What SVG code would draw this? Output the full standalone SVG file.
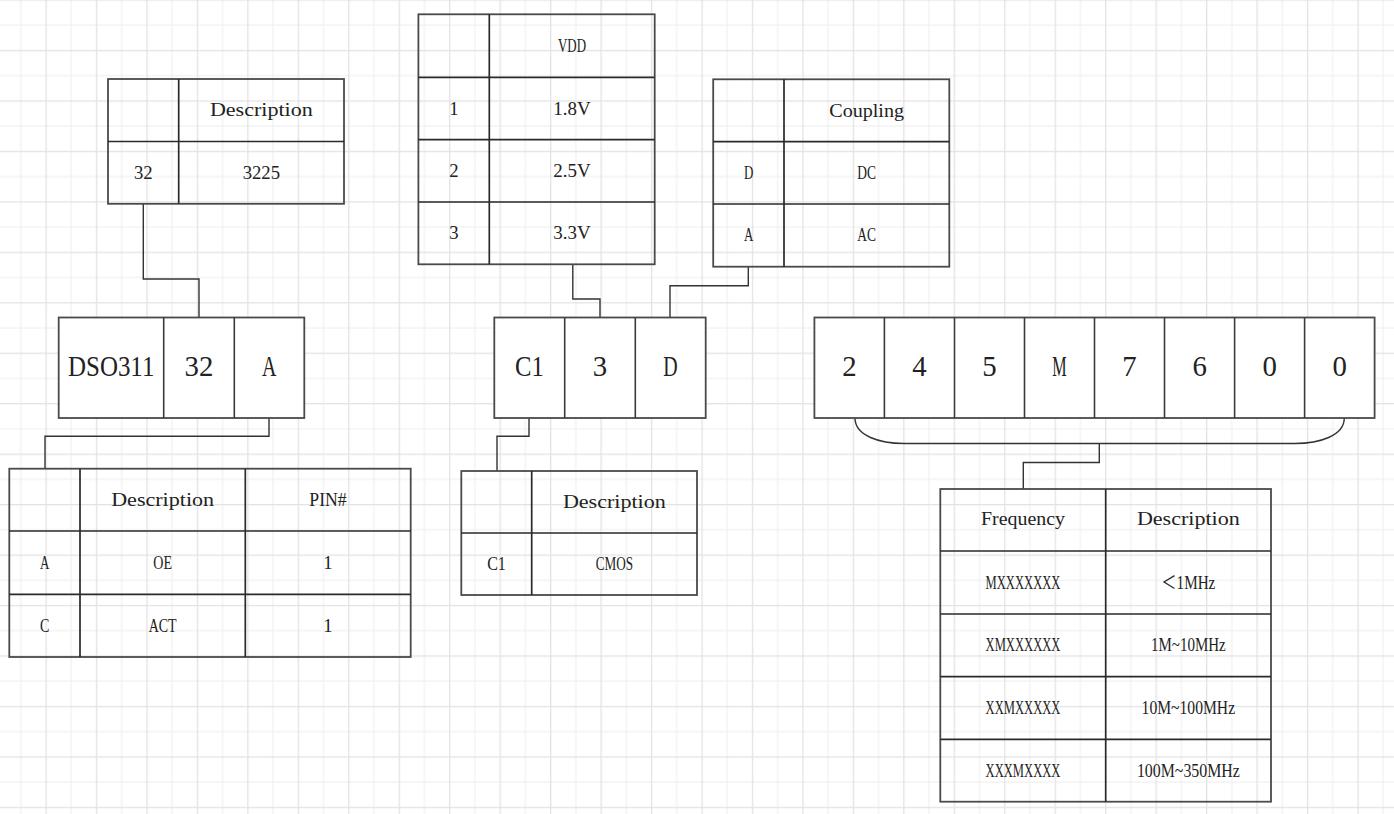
<svg xmlns="http://www.w3.org/2000/svg" width="1394" height="814" viewBox="0 0 1394 814">
<style>
.tb{fill:none;stroke:#4a4a4a;stroke-width:1.8}
.tl{stroke:#2a2a2a;stroke-width:1.7;fill:none}
.nd{fill:#fff;stroke:#4a4a4a;stroke-width:1.8}
.nl{stroke:#3a3a3a;stroke-width:1.6}
.t{font-family:"Liberation Serif","Noto Sans CJK SC",serif;font-size:18px;fill:#222;text-anchor:middle}
.b{font-family:"Liberation Serif","Noto Sans CJK SC",serif;font-size:29px;fill:#222;text-anchor:middle}
#connectors path{fill:none;stroke:#333;stroke-width:1.4}
</style>
<defs>
<pattern id="grid" x="45.4" y="-0.6" width="50.46" height="50.46" patternUnits="userSpaceOnUse">
<rect width="50.46" height="50.46" fill="#fff"/>
<rect x="25.23" y="0" width="1.1" height="50.46" fill="#f0f0f0"/>
<rect x="0" y="25.23" width="50.46" height="1.1" fill="#f0f0f0"/>
<rect x="0" y="0" width="1.3" height="50.46" fill="#e3e3e3"/>
<rect x="0" y="0" width="50.46" height="1.3" fill="#e3e3e3"/>
</pattern>
</defs>
<rect width="1394" height="814" fill="url(#grid)"/>

<g id="connectors">
<path d="M143.3,203.8 V279 H199 V317.5"/>
<path d="M269,418 V436.3 H45 V468.7"/>
<path d="M572.8,264.3 V299 H600 V317.5"/>
<path d="M748.3,266.8 V285.7 H670 V317.5"/>
<path d="M529,418 V436.3 H497 V471"/>
<path d="M855,418 C855,436 880,443.5 904,443.5 H1295 C1319,443.5 1344.3,436 1344.3,418"/>
<path d="M1099.3,443.5 V462.5 H1023.3 V489"/>
</g>

<g id="table-package">
<rect class="tb" x="108" y="79" width="236" height="124.8"/>
<path class="tl" d="M178.7,79 V203.8 M108,141.5 H344"/>
<text class="t" x="261.35" y="116.3" textLength="102.9" lengthAdjust="spacingAndGlyphs">Description</text>
<text class="t" x="143.3" y="178.6" textLength="18.7" lengthAdjust="spacingAndGlyphs">32</text>
<text class="t" x="261.35" y="178.6" textLength="37.4" lengthAdjust="spacingAndGlyphs">3225</text>
</g>

<g id="table-vdd">
<rect class="tb" x="418.4" y="14.3" width="236.3" height="250"/>
<path class="tl" d="M489.3,14.3 V264.3 M418.4,77.3 H654.7 M418.4,139.7 H654.7 M418.4,202 H654.7"/>
<text class="t" x="572" y="51.8" textLength="28" lengthAdjust="spacingAndGlyphs">VDD</text>
<text class="t" x="453.85" y="114.5" textLength="9.35" lengthAdjust="spacingAndGlyphs">1</text>
<text class="t" x="572" y="114.5" textLength="37.4" lengthAdjust="spacingAndGlyphs">1.8V</text>
<text class="t" x="453.85" y="176.85" textLength="9.35" lengthAdjust="spacingAndGlyphs">2</text>
<text class="t" x="572" y="176.85" textLength="37.4" lengthAdjust="spacingAndGlyphs">2.5V</text>
<text class="t" x="453.85" y="239.15" textLength="9.35" lengthAdjust="spacingAndGlyphs">3</text>
<text class="t" x="572" y="239.15" textLength="37.4" lengthAdjust="spacingAndGlyphs">3.3V</text>
</g>

<g id="table-coupling">
<rect class="tb" x="713.2" y="79.3" width="236.1" height="187.4"/>
<path class="tl" d="M784,79.3 V266.7 M713.2,141.7 H949.3 M713.2,204 H949.3"/>
<text class="t" x="866.65" y="116.5" textLength="74.8" lengthAdjust="spacingAndGlyphs">Coupling</text>
<text class="t" x="748.6" y="178.85" textLength="9.35" lengthAdjust="spacingAndGlyphs">D</text>
<text class="t" x="866.65" y="178.85" textLength="18.7" lengthAdjust="spacingAndGlyphs">DC</text>
<text class="t" x="748.6" y="241.35" textLength="9.35" lengthAdjust="spacingAndGlyphs">A</text>
<text class="t" x="866.65" y="241.35" textLength="18.7" lengthAdjust="spacingAndGlyphs">AC</text>
</g>

<g id="table-pin">
<rect class="tb" x="9.3" y="468.7" width="401.4" height="188.3"/>
<path class="tl" d="M80,468.7 V657 M245.3,468.7 V657 M9.3,531 H410.7 M9.3,594.3 H410.7"/>
<text class="t" x="162.65" y="505.85" textLength="102.9" lengthAdjust="spacingAndGlyphs">Description</text>
<text class="t" x="328" y="505.85" textLength="37.4" lengthAdjust="spacingAndGlyphs">PIN#</text>
<text class="t" x="44.65" y="568.65" textLength="9.35" lengthAdjust="spacingAndGlyphs">A</text>
<text class="t" x="162.65" y="568.65" textLength="18.7" lengthAdjust="spacingAndGlyphs">OE</text>
<text class="t" x="328" y="568.65" textLength="9.35" lengthAdjust="spacingAndGlyphs">1</text>
<text class="t" x="44.65" y="631.65" textLength="9.35" lengthAdjust="spacingAndGlyphs">C</text>
<text class="t" x="162.65" y="631.65" textLength="28" lengthAdjust="spacingAndGlyphs">ACT</text>
<text class="t" x="328" y="631.65" textLength="9.35" lengthAdjust="spacingAndGlyphs">1</text>
</g>

<g id="table-output">
<rect class="tb" x="461.3" y="471" width="235.7" height="124"/>
<path class="tl" d="M531.7,471 V595 M461.3,533 H697"/>
<text class="t" x="614.35" y="508" textLength="102.9" lengthAdjust="spacingAndGlyphs">Description</text>
<text class="t" x="496.5" y="570" textLength="18.7" lengthAdjust="spacingAndGlyphs">C1</text>
<text class="t" x="614.35" y="570" textLength="37.4" lengthAdjust="spacingAndGlyphs">CMOS</text>
</g>

<g id="table-frequency">
<rect class="tb" x="940.3" y="489" width="330.7" height="312.7"/>
<path class="tl" d="M1105.7,489 V801.7 M940.3,551 H1271 M940.3,614 H1271 M940.3,676.7 H1271 M940.3,739.3 H1271"/>
<text class="t" x="1023" y="525" textLength="84" lengthAdjust="spacingAndGlyphs">Frequency</text>
<text class="t" x="1188.35" y="525" textLength="102.9" lengthAdjust="spacingAndGlyphs">Description</text>
<text class="t" x="1023" y="588.5" textLength="74.8" lengthAdjust="spacingAndGlyphs">MXXXXXXX</text>
<text class="t" x="1188.35" y="588.5" textLength="54" lengthAdjust="spacingAndGlyphs">＜1MHz</text>
<text class="t" x="1023" y="651.35" textLength="74.8" lengthAdjust="spacingAndGlyphs">XMXXXXXX</text>
<text class="t" x="1188.35" y="651.35" textLength="74.8" lengthAdjust="spacingAndGlyphs">1M~10MHz</text>
<text class="t" x="1023" y="714" textLength="74.8" lengthAdjust="spacingAndGlyphs">XXMXXXXX</text>
<text class="t" x="1188.35" y="714" textLength="93.5" lengthAdjust="spacingAndGlyphs">10M~100MHz</text>
<text class="t" x="1023" y="776.5" textLength="74.8" lengthAdjust="spacingAndGlyphs">XXXMXXXX</text>
<text class="t" x="1188.35" y="776.5" textLength="102.9" lengthAdjust="spacingAndGlyphs">100M~350MHz</text>
</g>

<g id="node-dso311">
<rect class="nd" x="58.7" y="317.5" width="245.6" height="100.5"/>
<path class="nl" d="M163.7,317.5 V418 M234.3,317.5 V418"/>
<text class="b" x="111.2" y="376" textLength="86.4" lengthAdjust="spacingAndGlyphs">DSO311</text>
<text class="b" x="199" y="376" textLength="28.8" lengthAdjust="spacingAndGlyphs">32</text>
<text class="b" x="269.3" y="376" textLength="14.4" lengthAdjust="spacingAndGlyphs">A</text>
</g>

<g id="node-c13d">
<rect class="nd" x="494.3" y="317.5" width="211.4" height="100.5"/>
<path class="nl" d="M564.7,317.5 V418 M635.3,317.5 V418"/>
<text class="b" x="529.5" y="376" textLength="28.8" lengthAdjust="spacingAndGlyphs">C1</text>
<text class="b" x="600" y="376" textLength="14.4" lengthAdjust="spacingAndGlyphs">3</text>
<text class="b" x="670.5" y="376" textLength="14.4" lengthAdjust="spacingAndGlyphs">D</text>
</g>

<g id="node-frequency-code">
<rect class="nd" x="814.4" y="317.5" width="560.2" height="100.5"/>
<path class="nl" d="M884.4,317.5 V418 M954.5,317.5 V418 M1024.5,317.5 V418 M1094.5,317.5 V418 M1164.5,317.5 V418 M1234.6,317.5 V418 M1304.6,317.5 V418"/>
<text class="b" x="849.4" y="376" textLength="14.4" lengthAdjust="spacingAndGlyphs">2</text>
<text class="b" x="919.4" y="376" textLength="14.4" lengthAdjust="spacingAndGlyphs">4</text>
<text class="b" x="989.5" y="376" textLength="14.4" lengthAdjust="spacingAndGlyphs">5</text>
<text class="b" x="1059.5" y="376" textLength="14.4" lengthAdjust="spacingAndGlyphs">M</text>
<text class="b" x="1129.5" y="376" textLength="14.4" lengthAdjust="spacingAndGlyphs">7</text>
<text class="b" x="1199.6" y="376" textLength="14.4" lengthAdjust="spacingAndGlyphs">6</text>
<text class="b" x="1269.6" y="376" textLength="14.4" lengthAdjust="spacingAndGlyphs">0</text>
<text class="b" x="1339.6" y="376" textLength="14.4" lengthAdjust="spacingAndGlyphs">0</text>
</g>
</svg>
